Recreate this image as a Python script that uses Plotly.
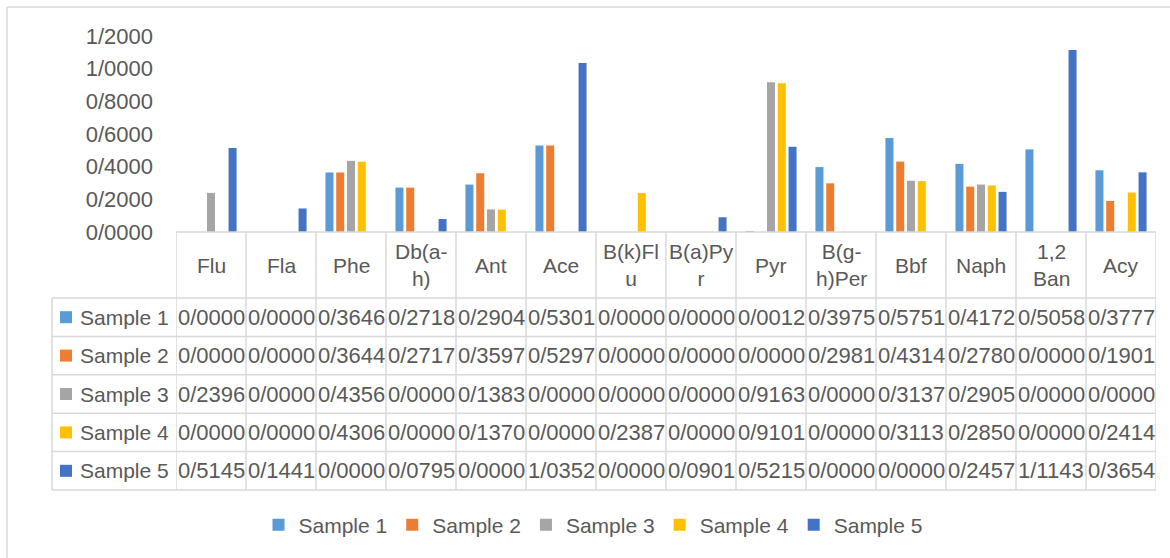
import plotly.graph_objects as go

# Compounds along the category axis, and how each name wraps in its header cell
categories = ["Flu", "Fla", "Phe", "Db(a-h)", "Ant", "Ace", "B(k)Flu", "B(a)Pyr",
              "Pyr", "B(g-h)Per", "Bbf", "Naph", "1,2 Ban", "Acy"]
category_labels = ["Flu", "Fla", "Phe", "Db(a-<br>h)", "Ant", "Ace", "B(k)Fl<br>u",
                   "B(a)Py<br>r", "Pyr", "B(g-<br>h)Per", "Bbf", "Naph", "1,2<br>Ban", "Acy"]

series_names = ["Sample 1", "Sample 2", "Sample 3", "Sample 4", "Sample 5"]
sample_1 = [0.0000, 0.0000, 0.3646, 0.2718, 0.2904, 0.5301, 0.0000, 0.0000, 0.0012, 0.3975, 0.5751, 0.4172, 0.5058, 0.3777]
sample_2 = [0.0000, 0.0000, 0.3644, 0.2717, 0.3597, 0.5297, 0.0000, 0.0000, 0.0000, 0.2981, 0.4314, 0.2780, 0.0000, 0.1901]
sample_3 = [0.2396, 0.0000, 0.4356, 0.0000, 0.1383, 0.0000, 0.0000, 0.0000, 0.9163, 0.0000, 0.3137, 0.2905, 0.0000, 0.0000]
sample_4 = [0.0000, 0.0000, 0.4306, 0.0000, 0.1370, 0.0000, 0.2387, 0.0000, 0.9101, 0.0000, 0.3113, 0.2850, 0.0000, 0.2414]
sample_5 = [0.5145, 0.1441, 0.0000, 0.0795, 0.0000, 1.0352, 0.0000, 0.0901, 0.5215, 0.0000, 0.0000, 0.2457, 1.1143, 0.3654]
series_values = [sample_1, sample_2, sample_3, sample_4, sample_5]

y_tick_values = [0.0, 0.2, 0.4, 0.6, 0.8, 1.0, 1.2]

colors = ["#5B9BD5", "#ED7D31", "#A5A5A5", "#FFC000", "#4472C4"]
text_color = "#595959"
grid_color = "#D9D9D9"
font_family = "Liberation Sans, Arial, sans-serif"

W, H = 1170, 558


def px(x):
    return x / W


def py(y):
    return 1 - y / H


def fmt(v):
    # decimal separator shown as "/"
    return f"{v:.4f}".replace(".", "/")


fig = go.Figure()
for name, vals, col in zip(series_names, series_values, colors):
    fig.add_trace(go.Bar(x=list(range(len(categories))), y=vals, name=name,
                         marker=dict(color=col, line=dict(width=0)),
                         hoverinfo="skip"))

# plot area edges (pixels)
left, right, top, base = 176, 1156, 36, 232
table_left = 52
row_lines = [298, 336.4, 374.8, 413.2, 451.6, 490]

shapes = []
line = dict(color=grid_color, width=1.5)
# outer chart frame: only its top and left edges lie on the page
shapes.append(dict(type="line", xref="paper", yref="paper", x0=px(7), x1=1,
                   y0=py(7), y1=py(7), line=line, layer="below"))
shapes.append(dict(type="line", xref="paper", yref="paper", x0=px(7), x1=px(7),
                   y0=0, y1=py(7), line=line, layer="below"))
# baseline / top of category row
shapes.append(dict(type="line", xref="paper", yref="paper", x0=px(left), x1=px(right),
                   y0=py(base), y1=py(base), line=line))
# horizontal table rules
for yl in row_lines:
    shapes.append(dict(type="line", xref="paper", yref="paper", x0=px(table_left), x1=px(right),
                       y0=py(yl), y1=py(yl), line=line))
# vertical rules between categories
for i in range(len(categories) + 1):
    shapes.append(dict(type="line", xref="x", yref="paper", x0=i - 0.5, x1=i - 0.5,
                       y0=py(base), y1=py(row_lines[-1]), line=line))
# left edge of row-label column
shapes.append(dict(type="line", xref="paper", yref="paper", x0=px(table_left), x1=px(table_left),
                   y0=py(row_lines[0]), y1=py(row_lines[-1]), line=line))

annotations = []
cat_font = dict(family=font_family, size=21, color=text_color)
for i, lab in enumerate(category_labels):
    annotations.append(dict(x=i, y=py(265), xref="x", yref="paper", text=lab, showarrow=False,
                            font=cat_font, xanchor="center", yanchor="middle", align="center"))

cell_font = dict(family=font_family, size=22, color=text_color)
for r, (name, vals, col) in enumerate(zip(series_names, series_values, colors)):
    yc = (row_lines[r] + row_lines[r + 1]) / 2
    shapes.append(dict(type="rect", xref="paper", yref="paper", x0=px(60), x1=px(72),
                       y0=py(yc + 6), y1=py(yc - 6), fillcolor=col, line=dict(width=0)))
    annotations.append(dict(x=px(78), y=py(yc), xref="paper", yref="paper", text=name,
                            showarrow=False, font=dict(family=font_family, size=21, color=text_color),
                            xanchor="left", yanchor="middle"))
    for i, v in enumerate(vals):
        annotations.append(dict(x=i, y=py(yc), xref="x", yref="paper", text=fmt(v),
                                showarrow=False, font=cell_font, xanchor="center", yanchor="middle"))

fig.update_layout(
    width=W, height=H,
    margin=dict(l=0, r=0, t=0, b=0, autoexpand=False),
    paper_bgcolor="white", plot_bgcolor="white",
    barmode="group", bargap=0.23, bargroupgap=0.256,
    font=dict(family=font_family, color=text_color),
    xaxis=dict(domain=[px(left), px(right)], range=[-0.5, len(categories) - 0.5],
               showticklabels=False, showgrid=False, zeroline=False, showline=False, ticks=""),
    yaxis=dict(domain=[py(base), py(top)], range=[0, 1.2], tickvals=y_tick_values,
               ticktext=[fmt(v) for v in y_tick_values], showgrid=False, zeroline=False,
               showline=False, ticks="", ticklabelstandoff=22, automargin=False,
               tickfont=dict(family=font_family, size=22, color=text_color)),
    legend=dict(orientation="h", x=0.5 + 8 / W, xanchor="center", y=py(525), yanchor="middle",
                font=dict(family=font_family, size=21, color=text_color),
                itemwidth=30, traceorder="normal"),
    shapes=shapes, annotations=annotations,
)

fig.write_html("out.html")
